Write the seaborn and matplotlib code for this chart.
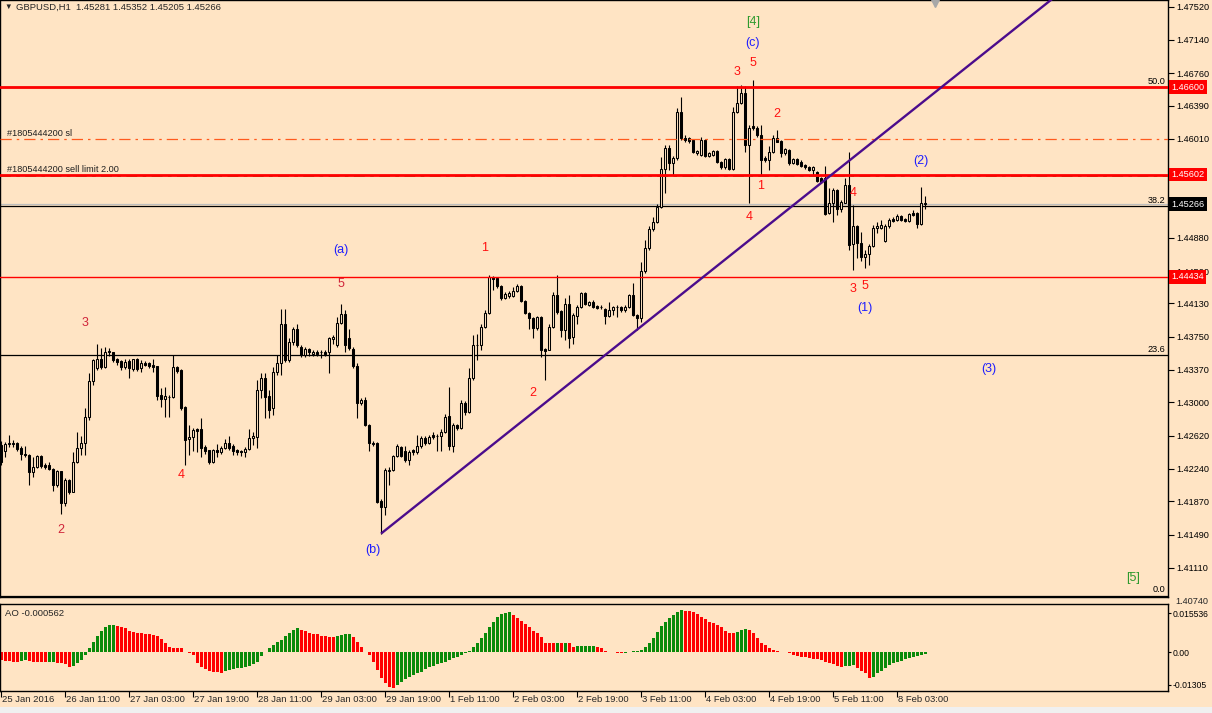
import matplotlib
matplotlib.use("Agg")
import numpy as np
import pandas as pd
import matplotlib.pyplot as plt
import matplotlib.transforms as mtransforms
import seaborn as sns

# ---------------- data (GBPUSD H1) ----------------
opens = [
    1.4251, 1.4244, 1.4252, 1.4254, 1.4254, 1.4248, 1.4241, 1.4240, 1.4220, 1.4226,
    1.4239, 1.4228, 1.4228, 1.4224, 1.4205, 1.4221, 1.4185, 1.4211, 1.4198, 1.4232,
    1.4248, 1.4254, 1.4283, 1.4324, 1.4339, 1.4350, 1.4340, 1.4359, 1.4357, 1.4349,
    1.4347, 1.4340, 1.4347, 1.4338, 1.4349, 1.4339, 1.4345, 1.4345, 1.4343, 1.4341,
    1.4308, 1.4304, 1.4306, 1.4306, 1.4340, 1.4337, 1.4295, 1.4258, 1.4260, 1.4269,
    1.4270, 1.4249, 1.4245, 1.4232, 1.4245, 1.4243, 1.4248, 1.4254, 1.4250, 1.4245,
    1.4244, 1.4243, 1.4247, 1.4259, 1.4260, 1.4314, 1.4328, 1.4307, 1.4294, 1.4335,
    1.4345, 1.4389, 1.4348, 1.4369, 1.4384, 1.4363, 1.4354, 1.4361, 1.4355, 1.4358,
    1.4357, 1.4358, 1.4358, 1.4372, 1.4366, 1.4391, 1.4401, 1.4373, 1.4361, 1.4342,
    1.4299, 1.4303, 1.4274, 1.4254, 1.4254, 1.4187, 1.4180, 1.4222, 1.4223, 1.4239,
    1.4249, 1.4244, 1.4234, 1.4245, 1.4243, 1.4250, 1.4259, 1.4254, 1.4263, 1.4262,
    1.4262, 1.4266, 1.4284, 1.4250, 1.4274, 1.4271, 1.4299, 1.4289, 1.4328, 1.4365,
    1.4366, 1.4386, 1.4402, 1.4443, 1.4442, 1.4433, 1.4419, 1.4422, 1.4422, 1.4427,
    1.4433, 1.4416, 1.4402, 1.4396, 1.4385, 1.4397, 1.4361, 1.4360, 1.4386, 1.4423,
    1.4404, 1.4383, 1.4412, 1.4375, 1.4399, 1.4409, 1.4425, 1.4411, 1.4415, 1.4410,
    1.4409, 1.4407, 1.4399, 1.4406, 1.4409, 1.4409, 1.4405, 1.4409, 1.4423, 1.4400,
    1.4396, 1.4450, 1.4476, 1.4498, 1.4506, 1.4523, 1.4567, 1.4591, 1.4573, 1.4579,
    1.4632, 1.4602, 1.4602, 1.4600, 1.4585, 1.4583, 1.4600, 1.4581, 1.4583, 1.4587,
    1.4575, 1.4569, 1.4578, 1.4567, 1.4632, 1.4642, 1.4654, 1.4594, 1.4616, 1.4614,
    1.4606, 1.4579, 1.4577, 1.4586, 1.4602, 1.4599, 1.4585, 1.4588, 1.4573, 1.4578,
    1.4575, 1.4571, 1.4569, 1.4565, 1.4563, 1.4556, 1.4556, 1.4516, 1.4528, 1.4543,
    1.4521, 1.4528, 1.4548, 1.4481, 1.4501, 1.4482, 1.4466, 1.4469, 1.4479, 1.4499,
    1.4499, 1.4484, 1.4501, 1.4510, 1.4508, 1.4513, 1.4510, 1.4507, 1.4516, 1.4516,
    1.4504, 1.45281,
]
closes = [
    1.4232, 1.4252, 1.4254, 1.4252, 1.4247, 1.4241, 1.4240, 1.4220, 1.4226, 1.4239,
    1.4227, 1.4226, 1.4224, 1.4205, 1.4221, 1.4185, 1.4211, 1.4198, 1.4232, 1.4248,
    1.4254, 1.4283, 1.4324, 1.4348, 1.4349, 1.4340, 1.4358, 1.4357, 1.4348, 1.4346,
    1.4340, 1.4346, 1.4339, 1.4349, 1.4338, 1.4345, 1.4343, 1.4341, 1.4340, 1.4307,
    1.4304, 1.4307, 1.4306, 1.4340, 1.4336, 1.4294, 1.4257, 1.4260, 1.4268, 1.4267,
    1.4248, 1.4244, 1.4232, 1.4245, 1.4243, 1.4248, 1.4254, 1.4248, 1.4244, 1.4243,
    1.4243, 1.4247, 1.4259, 1.4261, 1.4314, 1.4328, 1.4306, 1.4291, 1.4335, 1.4345,
    1.4389, 1.4348, 1.4369, 1.4384, 1.4366, 1.4354, 1.4361, 1.4357, 1.4358, 1.4355,
    1.4357, 1.4355, 1.4373, 1.4375, 1.4391, 1.4401, 1.4366, 1.4362, 1.4341, 1.4299,
    1.4303, 1.4274, 1.4254, 1.4252, 1.4186, 1.4180, 1.4223, 1.4223, 1.4239, 1.4250,
    1.4239, 1.4234, 1.4243, 1.4243, 1.4250, 1.4259, 1.4254, 1.4260, 1.4260, 1.4262,
    1.4266, 1.4283, 1.4250, 1.4274, 1.4271, 1.4299, 1.4289, 1.4328, 1.4366, 1.4366,
    1.4386, 1.4402, 1.4443, 1.4441, 1.4433, 1.4419, 1.4424, 1.4425, 1.4427, 1.4433,
    1.4416, 1.4402, 1.4396, 1.4385, 1.4397, 1.4360, 1.4359, 1.4386, 1.4423, 1.4403,
    1.4383, 1.4412, 1.4373, 1.4400, 1.4409, 1.4425, 1.4412, 1.4415, 1.4409, 1.4408,
    1.4409, 1.4399, 1.4406, 1.4409, 1.4409, 1.4405, 1.4409, 1.4423, 1.4400, 1.4396,
    1.4450, 1.4476, 1.4498, 1.4506, 1.4523, 1.4567, 1.4591, 1.4573, 1.4579, 1.4632,
    1.4602, 1.4600, 1.4599, 1.4586, 1.4587, 1.4600, 1.4581, 1.4585, 1.4587, 1.4575,
    1.4569, 1.4578, 1.4567, 1.4632, 1.4642, 1.4654, 1.4594, 1.4614, 1.4613, 1.4605,
    1.4577, 1.4577, 1.4586, 1.4602, 1.4598, 1.4585, 1.4590, 1.4573, 1.4578, 1.4572,
    1.4570, 1.4569, 1.4565, 1.4569, 1.4553, 1.4552, 1.4515, 1.4528, 1.4543, 1.4521,
    1.4529, 1.4548, 1.4480, 1.4501, 1.4482, 1.4466, 1.4469, 1.4479, 1.4499, 1.4501,
    1.4503, 1.4501, 1.4508, 1.4507, 1.4513, 1.4508, 1.4507, 1.4515, 1.4514, 1.4504,
    1.4528, 1.45266,
]
highs = [
    1.4256, 1.4255, 1.4263, 1.4257, 1.4255, 1.4250, 1.4250, 1.4241, 1.4238, 1.4240,
    1.4240, 1.4231, 1.4232, 1.4225, 1.4223, 1.4222, 1.4213, 1.4212, 1.4243, 1.4266,
    1.4262, 1.4294, 1.4334, 1.4350, 1.4367, 1.4362, 1.4363, 1.4362, 1.4358, 1.4351,
    1.4348, 1.4349, 1.4349, 1.4350, 1.4351, 1.4348, 1.4347, 1.4346, 1.4350, 1.4342,
    1.4316, 1.4317, 1.4308, 1.4354, 1.4342, 1.4338, 1.4296, 1.4274, 1.4271, 1.4271,
    1.4282, 1.4251, 1.4246, 1.4247, 1.4252, 1.4250, 1.4258, 1.4262, 1.4252, 1.4247,
    1.4246, 1.4249, 1.4270, 1.4266, 1.4326, 1.4334, 1.4334, 1.4314, 1.4340, 1.4354,
    1.4407, 1.4407, 1.4373, 1.4386, 1.4389, 1.4366, 1.4363, 1.4362, 1.4360, 1.4360,
    1.4360, 1.4360, 1.4375, 1.4377, 1.4397, 1.4412, 1.4405, 1.4384, 1.4363, 1.4345,
    1.4305, 1.4306, 1.4275, 1.4256, 1.4255, 1.4189, 1.4225, 1.4226, 1.4240, 1.4252,
    1.4250, 1.4250, 1.4245, 1.4247, 1.4263, 1.4262, 1.4261, 1.4263, 1.4266, 1.4264,
    1.4270, 1.4287, 1.4318, 1.4276, 1.4275, 1.4303, 1.4302, 1.4339, 1.4377, 1.4378,
    1.4389, 1.4406, 1.4446, 1.4444, 1.4443, 1.4434, 1.4426, 1.4427, 1.4432, 1.4435,
    1.4434, 1.4417, 1.4403, 1.4397, 1.4399, 1.4399, 1.4362, 1.4389, 1.4426, 1.4446,
    1.4406, 1.4419, 1.4423, 1.4402, 1.4411, 1.4426, 1.4426, 1.4416, 1.4417, 1.4411,
    1.4411, 1.4408, 1.4415, 1.4410, 1.4411, 1.4410, 1.4411, 1.4424, 1.4436, 1.4401,
    1.4460, 1.4486, 1.4502, 1.4512, 1.4527, 1.4580, 1.4594, 1.4594, 1.4582, 1.4636,
    1.4649, 1.4606, 1.4603, 1.4601, 1.4588, 1.4603, 1.4601, 1.4586, 1.4588, 1.4588,
    1.4576, 1.4579, 1.4579, 1.4637, 1.4662, 1.4663, 1.4662, 1.4617, 1.4668, 1.4616,
    1.4617, 1.4582, 1.4593, 1.4606, 1.4611, 1.4600, 1.4591, 1.4590, 1.4579, 1.4579,
    1.4577, 1.4572, 1.4570, 1.4570, 1.4564, 1.4557, 1.4570, 1.4545, 1.4545, 1.4544,
    1.4531, 1.4556, 1.4586, 1.4525, 1.4503, 1.4495, 1.4474, 1.4481, 1.4503, 1.4506,
    1.4508, 1.4504, 1.4511, 1.4512, 1.4515, 1.4514, 1.4511, 1.4516, 1.4520, 1.4517,
    1.4546, 1.45352,
]
lows = [
    1.4228, 1.4237, 1.4249, 1.4249, 1.4244, 1.4234, 1.4238, 1.4205, 1.4215, 1.4225,
    1.4225, 1.4224, 1.4223, 1.4199, 1.4203, 1.4172, 1.4182, 1.4195, 1.4197, 1.4231,
    1.4240, 1.4240, 1.4280, 1.4320, 1.4337, 1.4338, 1.4339, 1.4353, 1.4346, 1.4343,
    1.4337, 1.4338, 1.4328, 1.4336, 1.4336, 1.4335, 1.4341, 1.4339, 1.4335, 1.4303,
    1.4295, 1.4283, 1.4283, 1.4305, 1.4334, 1.4291, 1.4228, 1.4240, 1.4244, 1.4243,
    1.4238, 1.4241, 1.4230, 1.4231, 1.4238, 1.4241, 1.4247, 1.4246, 1.4240, 1.4240,
    1.4239, 1.4238, 1.4246, 1.4251, 1.4248, 1.4305, 1.4282, 1.4282, 1.4285, 1.4331,
    1.4331, 1.4346, 1.4346, 1.4366, 1.4363, 1.4352, 1.4352, 1.4353, 1.4353, 1.4353,
    1.4351, 1.4353, 1.4334, 1.4367, 1.4363, 1.4390, 1.4357, 1.4360, 1.4339, 1.4282,
    1.4297, 1.4273, 1.4244, 1.4250, 1.4185, 1.4150, 1.4171, 1.4205, 1.4221, 1.4238,
    1.4237, 1.4232, 1.4228, 1.4240, 1.4241, 1.4248, 1.4251, 1.4252, 1.4258, 1.4244,
    1.4244, 1.4265, 1.4245, 1.4243, 1.4268, 1.4269, 1.4286, 1.4288, 1.4326, 1.4348,
    1.4360, 1.4385, 1.4401, 1.4428, 1.4431, 1.4417, 1.4418, 1.4419, 1.4420, 1.4426,
    1.4415, 1.4401, 1.4384, 1.4374, 1.4383, 1.4352, 1.4325, 1.4360, 1.4385, 1.4401,
    1.4375, 1.4371, 1.4362, 1.4367, 1.4389, 1.4408, 1.4411, 1.4410, 1.4408, 1.4407,
    1.4407, 1.4390, 1.4397, 1.4400, 1.4397, 1.4403, 1.4403, 1.4408, 1.4399, 1.4383,
    1.4392, 1.4448, 1.4474, 1.4496, 1.4505, 1.4522, 1.4539, 1.4565, 1.4560, 1.4577,
    1.4600, 1.4597, 1.4596, 1.4585, 1.4583, 1.4582, 1.4580, 1.4580, 1.4582, 1.4574,
    1.4567, 1.4567, 1.4566, 1.4566, 1.4631, 1.4641, 1.4586, 1.4528, 1.4611, 1.4603,
    1.4560, 1.4575, 1.4565, 1.4585, 1.4597, 1.4580, 1.4583, 1.4571, 1.4572, 1.4571,
    1.4569, 1.4567, 1.4564, 1.4560, 1.4552, 1.4551, 1.4514, 1.4515, 1.4506, 1.4514,
    1.4518, 1.4528, 1.4474, 1.4451, 1.4465, 1.4461, 1.4454, 1.4457, 1.4478, 1.4493,
    1.4498, 1.4483, 1.4499, 1.4506, 1.4507, 1.4507, 1.4506, 1.4506, 1.4513, 1.4499,
    1.4503, 1.45205,
]
# Awesome Oscillator values, one per bar
ao = [
    -0.00281, -0.00306, -0.00330, -0.00342, -0.00345, -0.00306, -0.00281, -0.00318, -0.00342, -0.00345,
    -0.00350, -0.00367, -0.00342, -0.00340, -0.00379, -0.00404, -0.00440, -0.00526, -0.00489, -0.00379,
    -0.00281, -0.00098, 0.00147, 0.00367, 0.00599, 0.00783, 0.00942, 0.01003, 0.01010, 0.00978,
    0.00942, 0.00881, 0.00795, 0.00758, 0.00722, 0.00697, 0.00673, 0.00665, 0.00636, 0.00599,
    0.00477, 0.00355, 0.00208, 0.00150, 0.00147, 0.00145, 0.00024, -0.00037, -0.00098, -0.00404,
    -0.00526, -0.00624, -0.00685, -0.00709, -0.00734, -0.00746, -0.00673, -0.00648, -0.00612, -0.00587,
    -0.00563, -0.00526, -0.00489, -0.00428, -0.00343, -0.00135, 0.00024, 0.00147, 0.00269, 0.00367,
    0.00453, 0.00599, 0.00697, 0.00819, 0.00881, 0.00819, 0.00795, 0.00697, 0.00690, 0.00660,
    0.00599, 0.00590, 0.00575, 0.00570, 0.00599, 0.00636, 0.00660, 0.00665, 0.00575, 0.00391,
    0.00208, 0.00024, -0.00098, -0.00343, -0.00648, -0.00929, -0.01113, -0.01260, -0.01305, -0.01199,
    -0.01076, -0.00978, -0.00893, -0.00832, -0.00770, -0.00709, -0.00624, -0.00550, -0.00489, -0.00428,
    -0.00379, -0.00342, -0.00281, -0.00220, -0.00159, -0.00098, -0.00037, 0.00061, 0.00208, 0.00330,
    0.00514, 0.00697, 0.00917, 0.01125, 0.01284, 0.01406, 0.01455, 0.01492, 0.01370, 0.01247,
    0.01162, 0.01040, 0.00917, 0.00795, 0.00697, 0.00551, 0.00330, 0.00328, 0.00325, 0.00355,
    0.00330, 0.00345, 0.00330, 0.00208, 0.00215, 0.00220, 0.00222, 0.00225, 0.00232, 0.00210,
    0.00147, 0.00061, 0.00024, -0.00005, -0.00012, -0.00037, -0.00012, 0.00024, 0.00030, 0.00049,
    0.00086, 0.00208, 0.00355, 0.00514, 0.00758, 0.00978, 0.01125, 0.01247, 0.01370, 0.01468,
    0.015536, 0.01529, 0.01516, 0.01492, 0.01406, 0.01309, 0.01223, 0.01125, 0.01064, 0.01003,
    0.00942, 0.00783, 0.00722, 0.00697, 0.00734, 0.00819, 0.00856, 0.00832, 0.00697, 0.00514,
    0.00355, 0.00269, 0.00147, 0.00086, 0.00049, 0.00024, 0.00005, -0.00012, -0.00098, -0.00135,
    -0.00159, -0.00183, -0.00220, -0.00245, -0.00257, -0.00281, -0.00342, -0.00404, -0.00440, -0.00489,
    -0.00526, -0.00501, -0.00489, -0.00480, -0.00587, -0.00673, -0.00770, -0.00929, -0.00893, -0.00770,
    -0.00685, -0.00587, -0.00465, -0.00404, -0.00367, -0.00318, -0.00257, -0.00220, -0.00183, -0.00150,
    -0.00110, -0.000562,
]
assert len(opens) == len(closes) == len(highs) == len(lows) == len(ao) == 232

time_ticks = list(range(0, 225, 16))
time_labels = ["25 Jan 2016", "26 Jan 11:00", "27 Jan 03:00", "27 Jan 19:00", "28 Jan 11:00",
               "29 Jan 03:00", "29 Jan 19:00", "1 Feb 11:00", "2 Feb 03:00", "2 Feb 19:00",
               "3 Feb 11:00", "4 Feb 03:00", "4 Feb 19:00", "5 Feb 11:00", "8 Feb 03:00"]
price_ticks = [1.47520, 1.47140, 1.46760, 1.46390, 1.46010, 1.44880, 1.44500, 1.44130,
               1.43750, 1.43370, 1.43000, 1.42620, 1.42240, 1.41870, 1.41490, 1.41110]

# horizontal levels
res_line = 1.46600
order_line = 1.45602
sl_line = 1.46010
sup_line = 1.44434
bid = 1.45266
fib_levels = {"50.0": 1.46600, "38.2": 1.45241, "23.6": 1.43539, "0.0": 1.40790}

# trend line anchors (bar, price)
trend_p1 = (95, 1.4150)
trend_p2 = (159, 1.4383)

# Elliott wave labels: (text, bar, price, colour key)
waves = [
    ("2", 15, 1.4154, "dred"), ("3", 21, 1.4391, "dred"), ("4", 45, 1.4217, "red"),
    ("5", 85, 1.4435, "dred"), ("(a)", 85, 1.4474, "blue"), ("(b)", 93, 1.4131, "blue"),
    ("1", 121, 1.4476, "red"), ("2", 133, 1.4311, "red"), ("3", 184, 1.4677, "red"),
    ("5", 188, 1.4688, "red"), ("(c)", 188, 1.4711, "blue"), ("[4]", 188, 1.4735, "green"),
    ("2", 194, 1.4629, "red"), ("1", 190, 1.4547, "red"), ("4", 187, 1.4512, "red"),
    ("4", 213, 1.4539, "red"), ("3", 213, 1.4429, "red"), ("5", 216, 1.4433, "red"),
    ("(1)", 216, 1.4408, "blue"), ("(2)", 230, 1.4576, "blue"), ("(3)", 247, 1.4338, "blue"),
    ("[5]", 283, 1.4099, "green"),
]
wave_colors = {"red": "#FF1010", "dred": "#D0243A", "blue": "#1E1EFF", "green": "#2E9A2E"}

BG = "#FFE4C4"
PURPLE = "#4B0C8C"

# ---------------- figure ----------------
sns.set_theme(style="white")
plt.rcParams["font.family"] = ["Liberation Sans", "DejaVu Sans"]
plt.rcParams["axes.linewidth"] = 1.0

W, H = 1212, 713
fig = plt.figure(figsize=(W / 100, H / 100), dpi=100, facecolor=BG)
ax = fig.add_axes([0, (H - 597) / H, 1168 / W, 597 / H], facecolor=BG)
ax2 = fig.add_axes([0, (H - 690.7) / H, 1168 / W, 87.2 / H], facecolor=BG)
fig.patches.append(plt.Rectangle((0, 0), 1, 6 / H, transform=fig.transFigure,
                                 facecolor="#F0F0F0", edgecolor="none"))

x = np.arange(len(closes))
o = np.array(opens)
c = np.array(closes)
up = c >= o

# candles
ax.vlines(x, lows, highs, color="black", lw=0.8, zorder=3)
ax.bar(x[up], (c - o)[up], bottom=o[up], width=0.5, facecolor=BG,
       edgecolor="black", linewidth=0.75, zorder=4)
ax.bar(x[~up], (o - c)[~up], bottom=c[~up], width=0.5, facecolor="black",
       edgecolor="black", linewidth=0.75, zorder=4)

xmin, xmax = -0.25, 291.75
ax.set_xlim(xmin, xmax)
ax.set_ylim(1.40776, 1.47597)

# levels
blend = mtransforms.blended_transform_factory(ax.transAxes, ax.transData)
for lab, lv in fib_levels.items():
    ax.axhline(lv, color="black", lw=0.9, zorder=2.5)
    ax.annotate(lab, xy=(1, lv), xycoords=blend, xytext=(-2, 1), textcoords="offset points",
                ha="right", va="bottom", fontsize=6.6, color="black")
ax.axhline(bid, color="#BEBEBE", lw=0.9, zorder=2.4)
ax.axhline(sl_line, color="#FF5A1E", lw=0.9, dashes=(9, 4, 2, 4), zorder=5)
shift_down = blend + mtransforms.ScaledTranslation(0, -1.5 / 100, fig.dpi_scale_trans)
ax.plot([0, 1], [order_line, order_line], transform=shift_down, color="#2E8B2E",
        lw=1.3, dashes=(6, 3, 2, 3), zorder=5)
ax.axhline(order_line, color="red", lw=2.0, zorder=5.5)
ax.axhline(res_line, color="red", lw=2.0, zorder=5.5)
ax.axhline(sup_line, color="red", lw=1.0, zorder=5.5)

ax.text(0.006, 1.46077, "#1805444200 sl", transform=blend, fontsize=6.6,
        color="#202020", va="center", ha="left")
ax.text(0.006, 1.45666, "#1805444200 sell limit 2.00", transform=blend, fontsize=6.6,
        color="#202020", va="center", ha="left")

# trend line from the (b) low, extended to the right
slope = (trend_p2[1] - trend_p1[1]) / (trend_p2[0] - trend_p1[0])
tx = np.array([trend_p1[0], xmax])
ax.plot(tx, trend_p1[1] + slope * (tx - trend_p1[0]), color=PURPLE, lw=1.7,
        zorder=6, solid_capstyle="butt")

for txt, b, p, ck in waves:
    ax.text(b, p, txt, ha="center", va="center", fontsize=9, color=wave_colors[ck], zorder=7)

# price axis on the right
ax.set_xticks([])
ax.yaxis.tick_right()
ax.set_yticks(price_ticks)
ax.set_yticklabels([f"{t:.5f}" for t in price_ticks])
ax.tick_params(axis="y", direction="out", length=4, width=0.8, pad=2,
               labelsize=6.6, colors="black", right=True, left=False)
for side in ax.spines.values():
    side.set_color("black")
    side.set_linewidth(1.0)

for lv, col in [(res_line, "red"), (order_line, "red"), (sup_line, "red"), (bid, "black")]:
    ax.annotate(f"{lv:.5f}", xy=(1, lv), xycoords=blend, xytext=(2.5, 0),
                textcoords="offset points", ha="left", va="center", fontsize=6.6,
                color="white", zorder=10, annotation_clip=False,
                bbox=dict(boxstyle="square,pad=0.25", fc=col, ec="none"))
fig.text(1175 / W, 1 - 601 / H, "1.40740", fontsize=6.6, ha="left", va="center")

# header
ax.text(0.004, 0.987, "\u25BC", transform=ax.transAxes, fontsize=5.5, va="center", ha="left")
ax.text(0.0135, 0.987, "GBPUSD,H1  1.45281 1.45352 1.45205 1.45266", transform=ax.transAxes,
        fontsize=6.8, va="center", ha="left")
ax.plot([0.8005], [0.995], marker="v", ms=6, color="#A8A8A8", transform=ax.transAxes,
        clip_on=False, zorder=8)

# ---------------- AO panel ----------------
ao_arr = np.array(ao)
ao_df = pd.DataFrame({
    "bar": x,
    "ao": ao_arr,
    "dir": np.where(np.diff(ao_arr, prepend=ao_arr[0] + 1) > 0, "up", "down"),
})
sns.barplot(data=ao_df, x="bar", y="ao", hue="dir", palette={"up": "#0A8A0A", "down": "#FF0000"},
            native_scale=True, width=0.75, errorbar=None, legend=False, saturation=1,
            linewidth=0, ax=ax2)
ax2.set_xlim(xmin, xmax)
ax2.set_ylim(-0.01410, 0.01792)
ax2.set_xlabel("")
ax2.set_ylabel("")
ax2.set_xticks(time_ticks)
ax2.set_xticklabels([""] * len(time_ticks))
ax2.tick_params(axis="x", direction="out", length=4, width=0.8, bottom=True, colors="black")
tblend = mtransforms.blended_transform_factory(ax2.transData, ax2.transAxes)
for b, lab in zip(time_ticks, time_labels):
    ax2.text(b + 0.2, -0.055, lab, transform=tblend, ha="left", va="top", fontsize=6.8)
ax2.yaxis.tick_right()
ax2.set_yticks([0.0144, 0.0, -0.0120])
ax2.set_yticklabels(["0.015536", "0.00", "-0.01305"])
ax2.tick_params(axis="y", direction="out", length=2, width=0.8, pad=1,
                labelsize=6.2, colors="black", right=True, left=False)
for side in ax2.spines.values():
    side.set_color("black")
    side.set_linewidth(1.0)
ax2.text(0.004, 0.88, "AO -0.000562", transform=ax2.transAxes, fontsize=6.8,
         va="center", ha="left")

fig.savefig("out.png", dpi=100, facecolor=BG)
